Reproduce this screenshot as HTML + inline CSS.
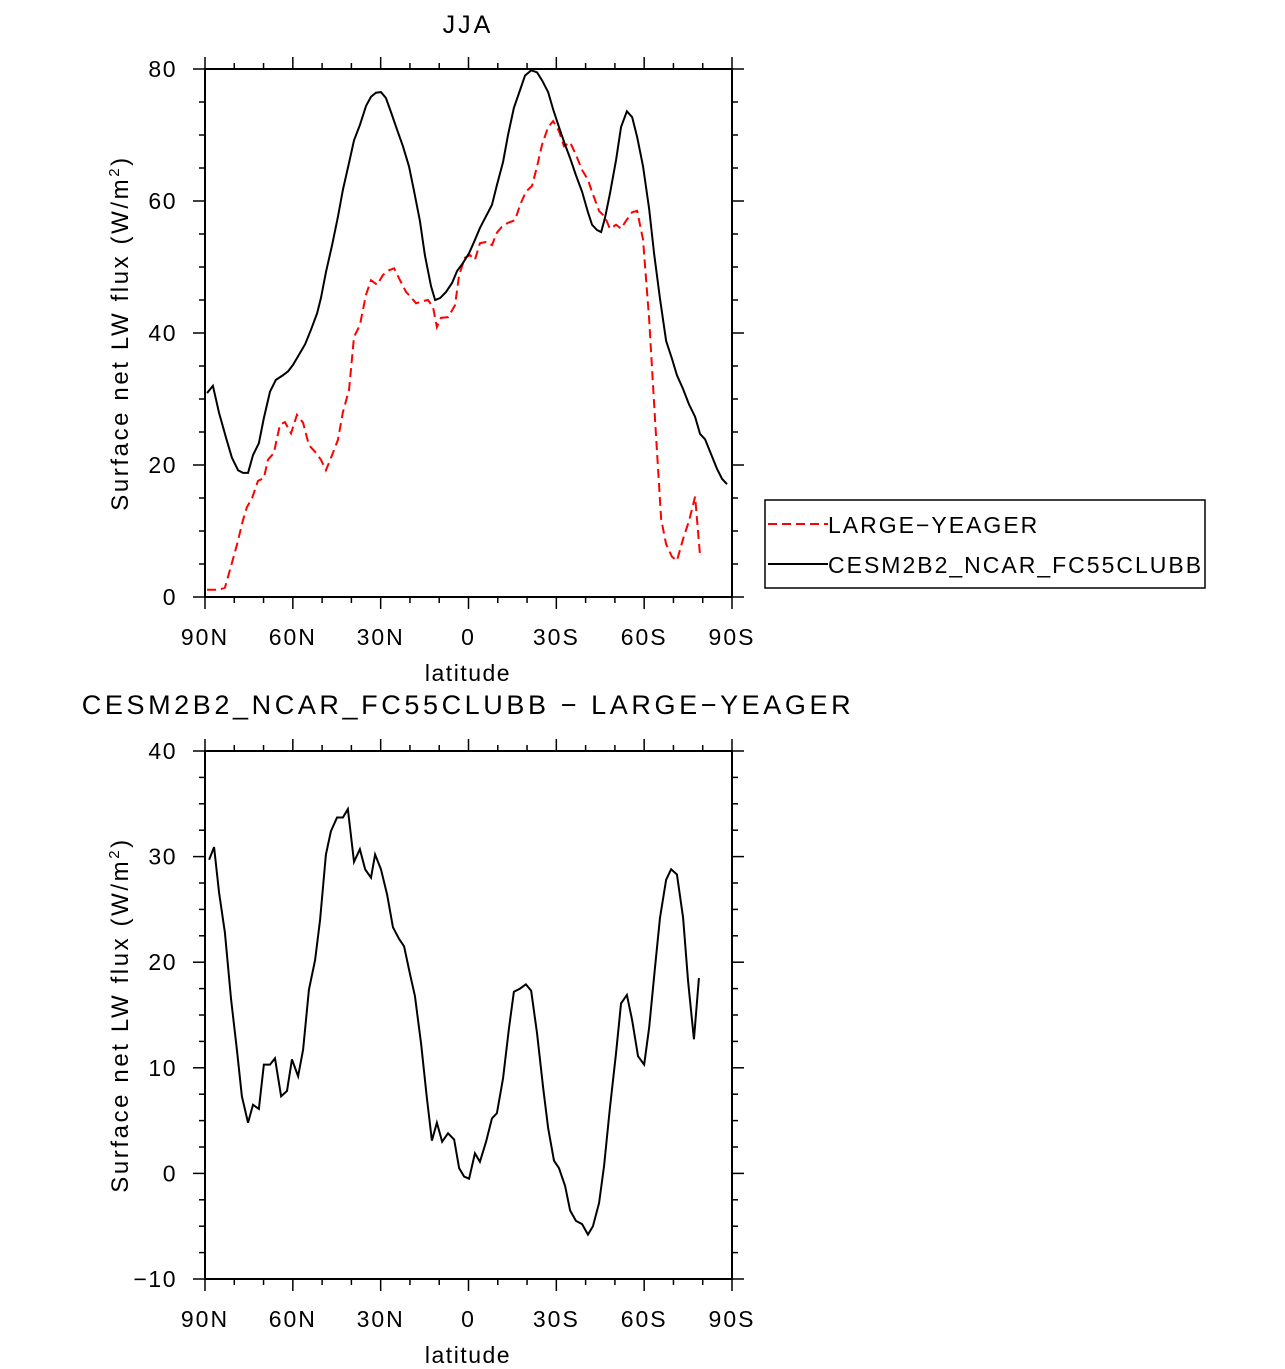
<!DOCTYPE html>
<html><head><meta charset="utf-8"><style>
html,body{margin:0;padding:0;background:#fff;}
svg{display:block;font-family:"Liberation Sans",sans-serif;}
</style></head><body>
<svg id="fig" width="1285" height="1369" viewBox="0 0 1285 1369"></svg>
<script>
// ---- data ----
const cesmLat=[89.3,87.3,85.2,82.8,80.8,78.7,77.0,75.3,73.6,71.6,69.9,67.8,65.8,63.7,61.6,59.9,57.9,55.8,53.8,51.7,50.4,48.7,46.6,44.6,42.9,40.8,39.1,37.1,35.0,33.3,31.6,29.9,28.2,26.5,24.4,22.4,20.3,18.6,16.6,14.9,12.8,11.4,9.7,7.7,5.6,3.9,1.9,-0.2,-1.9,-3.9,-6.0,-8.0,-9.7,-11.8,-13.5,-15.5,-17.6,-19.3,-21.4,-23.4,-25.1,-27.2,-28.9,-30.9,-33.0,-34.7,-36.7,-38.8,-40.8,-42.2,-43.9,-45.3,-46.6,-48.3,-50.4,-52.1,-54.1,-55.9,-57.6,-59.6,-61.7,-63.4,-65.4,-67.5,-69.5,-71.2,-73.3,-75.3,-77.4,-79.1,-80.8,-82.8,-84.9,-86.6,-88.3];
const cesmVal=[30.9,32.0,27.9,24.1,21.1,19.2,18.8,18.8,21.5,23.3,27.1,31.1,32.9,33.5,34.2,35.2,36.7,38.3,40.5,43.0,45.3,49.2,53.3,57.6,61.7,65.8,69.2,71.5,74.4,75.8,76.4,76.5,75.6,73.5,70.8,68.3,65.2,61.5,57.0,51.8,47.1,45.0,45.3,46.2,47.6,49.4,50.6,52.1,53.8,55.9,57.7,59.4,62.4,65.9,70.0,74.1,76.8,79.0,79.8,79.5,78.3,76.5,73.9,71.2,68.5,66.5,63.9,61.4,58.3,56.4,55.6,55.3,57.4,61.1,66.2,71.2,73.6,72.7,69.7,65.3,58.8,52.0,45.2,38.8,36.1,33.6,31.5,29.2,27.3,24.7,23.9,21.7,19.4,17.9,17.1];
const obsLat=[89.3,87.3,85.2,83.2,81.1,79.1,77.0,75.7,73.9,71.9,69.9,68.5,66.5,64.4,62.7,60.6,58.6,56.5,54.5,52.4,50.4,48.7,46.6,44.6,42.9,40.8,39.1,37.1,35.0,33.3,31.2,29.2,27.2,25.4,23.4,21.3,20.0,17.9,15.9,13.8,12.1,10.8,9.4,7.0,4.6,3.2,1.2,-0.5,-2.2,-3.9,-6.0,-8.0,-9.7,-11.4,-13.5,-15.9,-17.6,-19.6,-21.7,-23.4,-25.1,-27.2,-28.9,-30.9,-32.6,-34.7,-36.7,-38.8,-40.8,-42.5,-44.6,-46.6,-48.3,-50.4,-52.1,-53.8,-55.9,-57.6,-59.6,-61.7,-63.7,-65.8,-67.5,-69.5,-71.2,-73.3,-75.3,-77.4,-79.1];
const obsVal=[1.1,1.1,1.1,1.4,4.7,7.9,11.7,13.6,15.0,17.6,18.0,20.8,21.8,26.1,26.5,24.8,27.6,26.4,23.0,22.0,20.8,19.2,21.5,23.8,28.0,31.4,39.4,41.2,45.8,48.0,47.3,48.8,49.5,49.8,48.0,46.2,45.6,44.5,44.8,45.0,43.9,40.9,42.3,42.4,44.2,48.8,51.4,51.8,51.1,53.6,53.8,53.3,55.2,56.1,56.7,57.1,59.4,61.4,62.3,65.2,68.5,71.2,72.1,70.6,68.3,68.9,67.0,64.7,63.2,61.0,58.5,57.6,55.8,56.4,55.8,57.0,58.3,58.5,54.2,42.1,27.0,11.8,8.0,6.1,5.5,8.8,11.5,15.2,6.2];
const diffLat=[88.6,86.9,85.2,83.2,81.1,79.1,77.4,75.3,73.6,71.6,69.9,67.8,66.1,64.0,62.0,60.3,58.2,56.5,54.5,52.4,50.7,48.7,47.0,44.9,42.9,41.2,39.1,37.1,35.3,33.3,31.9,29.9,27.8,25.8,23.7,22.0,20.0,18.3,16.2,14.2,12.5,10.8,9.0,7.0,4.9,3.2,1.5,-0.2,-2.2,-3.9,-6.0,-8.0,-9.7,-11.8,-13.8,-15.5,-17.6,-19.6,-21.4,-23.4,-25.5,-27.2,-29.2,-30.9,-33.0,-34.7,-36.7,-38.8,-40.8,-42.5,-44.6,-46.3,-48.3,-50.4,-52.1,-54.1,-55.9,-57.9,-60.0,-61.7,-63.7,-65.4,-67.5,-69.2,-71.2,-73.3,-75.0,-77.0,-78.7];
const diffVal=[29.7,30.9,26.6,22.8,16.5,11.7,7.3,4.8,6.5,6.1,10.3,10.3,10.9,7.3,7.8,10.8,9.2,11.7,17.4,20.2,24.0,30.2,32.4,33.7,33.7,34.5,29.5,30.7,28.8,28.0,30.2,28.8,26.4,23.3,22.2,21.5,18.9,16.8,12.3,7.1,3.1,4.8,3.0,3.8,3.2,0.5,-0.3,-0.5,1.9,1.1,3.0,5.2,5.7,9.0,13.7,17.2,17.5,17.9,17.3,13.3,8.1,4.3,1.2,0.5,-1.2,-3.5,-4.5,-4.8,-5.8,-5.0,-2.8,0.7,6.2,11.4,16.1,16.9,14.5,11.1,10.3,13.8,19.5,24.2,27.8,28.8,28.3,24.2,18.2,12.7,18.5];
const xTickLabels=["90N","60N","30N","0","30S","60S","90S"];
const xTickVals=[90,60,30,0,-30,-60,-90];
const topYTicks=[0,20,40,60,80];
const botYTicks=[-10,0,10,20,30,40];

const NS="http://www.w3.org/2000/svg";
const svg=document.getElementById('fig');
function el(t,a,p){const e=document.createElementNS(NS,t);for(const k in a)e.setAttribute(k,a[k]);(p||svg).appendChild(e);return e;}
const X0=205,X1=732;
const xs=lat=>X0+(90-lat)/180*(X1-X0);

function panel(name,yTop,yBot,vMin,vMax,yTicks,minorStep){
  const g=el('g',{});
  
  
  const ys=v=>yBot-(v-vMin)/(vMax-vMin)*(yBot-yTop);
  const fr=el('rect',{x:X0,y:yTop,width:X1-X0,height:yBot-yTop,fill:'none',stroke:'#000','stroke-width':2},g);
  
  
  for(let lat=90;lat>=-90;lat-=10){
    const x=xs(lat),major=lat%30===0,L=major?12:6;
    el('line',{x1:x,y1:yBot,x2:x,y2:yBot+L,stroke:'#000','stroke-width':1.5},g);
    el('line',{x1:x,y1:yTop,x2:x,y2:yTop-L,stroke:'#000','stroke-width':1.5},g);
  }
  xTickVals.forEach((v,i)=>{
    const t=el('text',{x:xs(v),y:yBot+48,'font-size':23,'text-anchor':'middle','letter-spacing':'2'},g);
    t.textContent=xTickLabels[i];
    
    
  });
  for(let v=vMin;v<=vMax+1e-6;v+=minorStep){
    const y=ys(v),major=yTicks.includes(Math.round(v)),L=major?12:6;
    el('line',{x1:X0,y1:y,x2:X0-L,y2:y,stroke:'#000','stroke-width':1.5},g);
    el('line',{x1:X1,y1:y,x2:X1+L,y2:y,stroke:'#000','stroke-width':1.5},g);
  }
  yTicks.forEach(v=>{
    const t=el('text',{x:177,y:ys(v)+8,'font-size':23,'text-anchor':'end','letter-spacing':'1.5'},g);
    t.textContent=v<0?'\u2212'+(-v):String(v);
    
    
  });
  const xt=el('text',{x:468,y:yBot+84,'font-size':23,'text-anchor':'middle','letter-spacing':'1.5'},g);
  xt.textContent='latitude';
  
  
  const cy=(yTop+yBot)/2;
  const yt=el('text',{x:0,y:0,'font-size':24,'text-anchor':'middle',transform:`translate(128,${cy}) rotate(-90)`,'letter-spacing':'2.6'},g);
  yt.innerHTML='Surface net LW flux (W/m<tspan dy="-9" font-size="15">2</tspan><tspan dy="9">)</tspan>';
  
  
  return ys;
}
function line(lats,vals,ys,attrs,name){
  const p=el('polyline',Object.assign({points:lats.map((l,i)=>xs(l)+','+ys(vals[i])).join(' '),fill:'none'},attrs));
  
  
}
const ysTop=panel('top-panel',69,597,0,80,topYTicks,5);
line(obsLat,obsVal,ysTop,{stroke:'#f00','stroke-width':2,'stroke-dasharray':'9,5'},'large-yeager-line');
line(cesmLat,cesmVal,ysTop,{stroke:'#000','stroke-width':2},'cesm-line');
const ysBot=panel('bottom-panel',751,1279,-10,40,botYTicks,2.5);
line(diffLat,diffVal,ysBot,{stroke:'#000','stroke-width':2},'difference-line');

const t1=el('text',{x:468,y:33,'font-size':25,'text-anchor':'middle','letter-spacing':'3'});
t1.textContent='JJA';


const t2=el('text',{x:468,y:714,'font-size':27,'text-anchor':'middle','letter-spacing':'3.6'});
t2.textContent='CESM2B2_NCAR_FC55CLUBB \u2212 LARGE\u2212YEAGER';



const lg=el('g',{});


el('rect',{x:765,y:500,width:440,height:88,fill:'#fff',stroke:'#000','stroke-width':1.5},lg);
const l1=el('line',{x1:768,y1:524,x2:828,y2:524,stroke:'#f00','stroke-width':2,'stroke-dasharray':'9,5'},lg);


const lt1=el('text',{x:828,y:533,'font-size':23,'letter-spacing':'2'},lg);lt1.textContent='LARGE\u2212YEAGER';
const l2=el('line',{x1:768,y1:564,x2:828,y2:564,stroke:'#000','stroke-width':2},lg);


const lt2=el('text',{x:828,y:573,'font-size':23,'letter-spacing':'2'},lg);lt2.textContent='CESM2B2_NCAR_FC55CLUBB';
</script>
</body></html>
